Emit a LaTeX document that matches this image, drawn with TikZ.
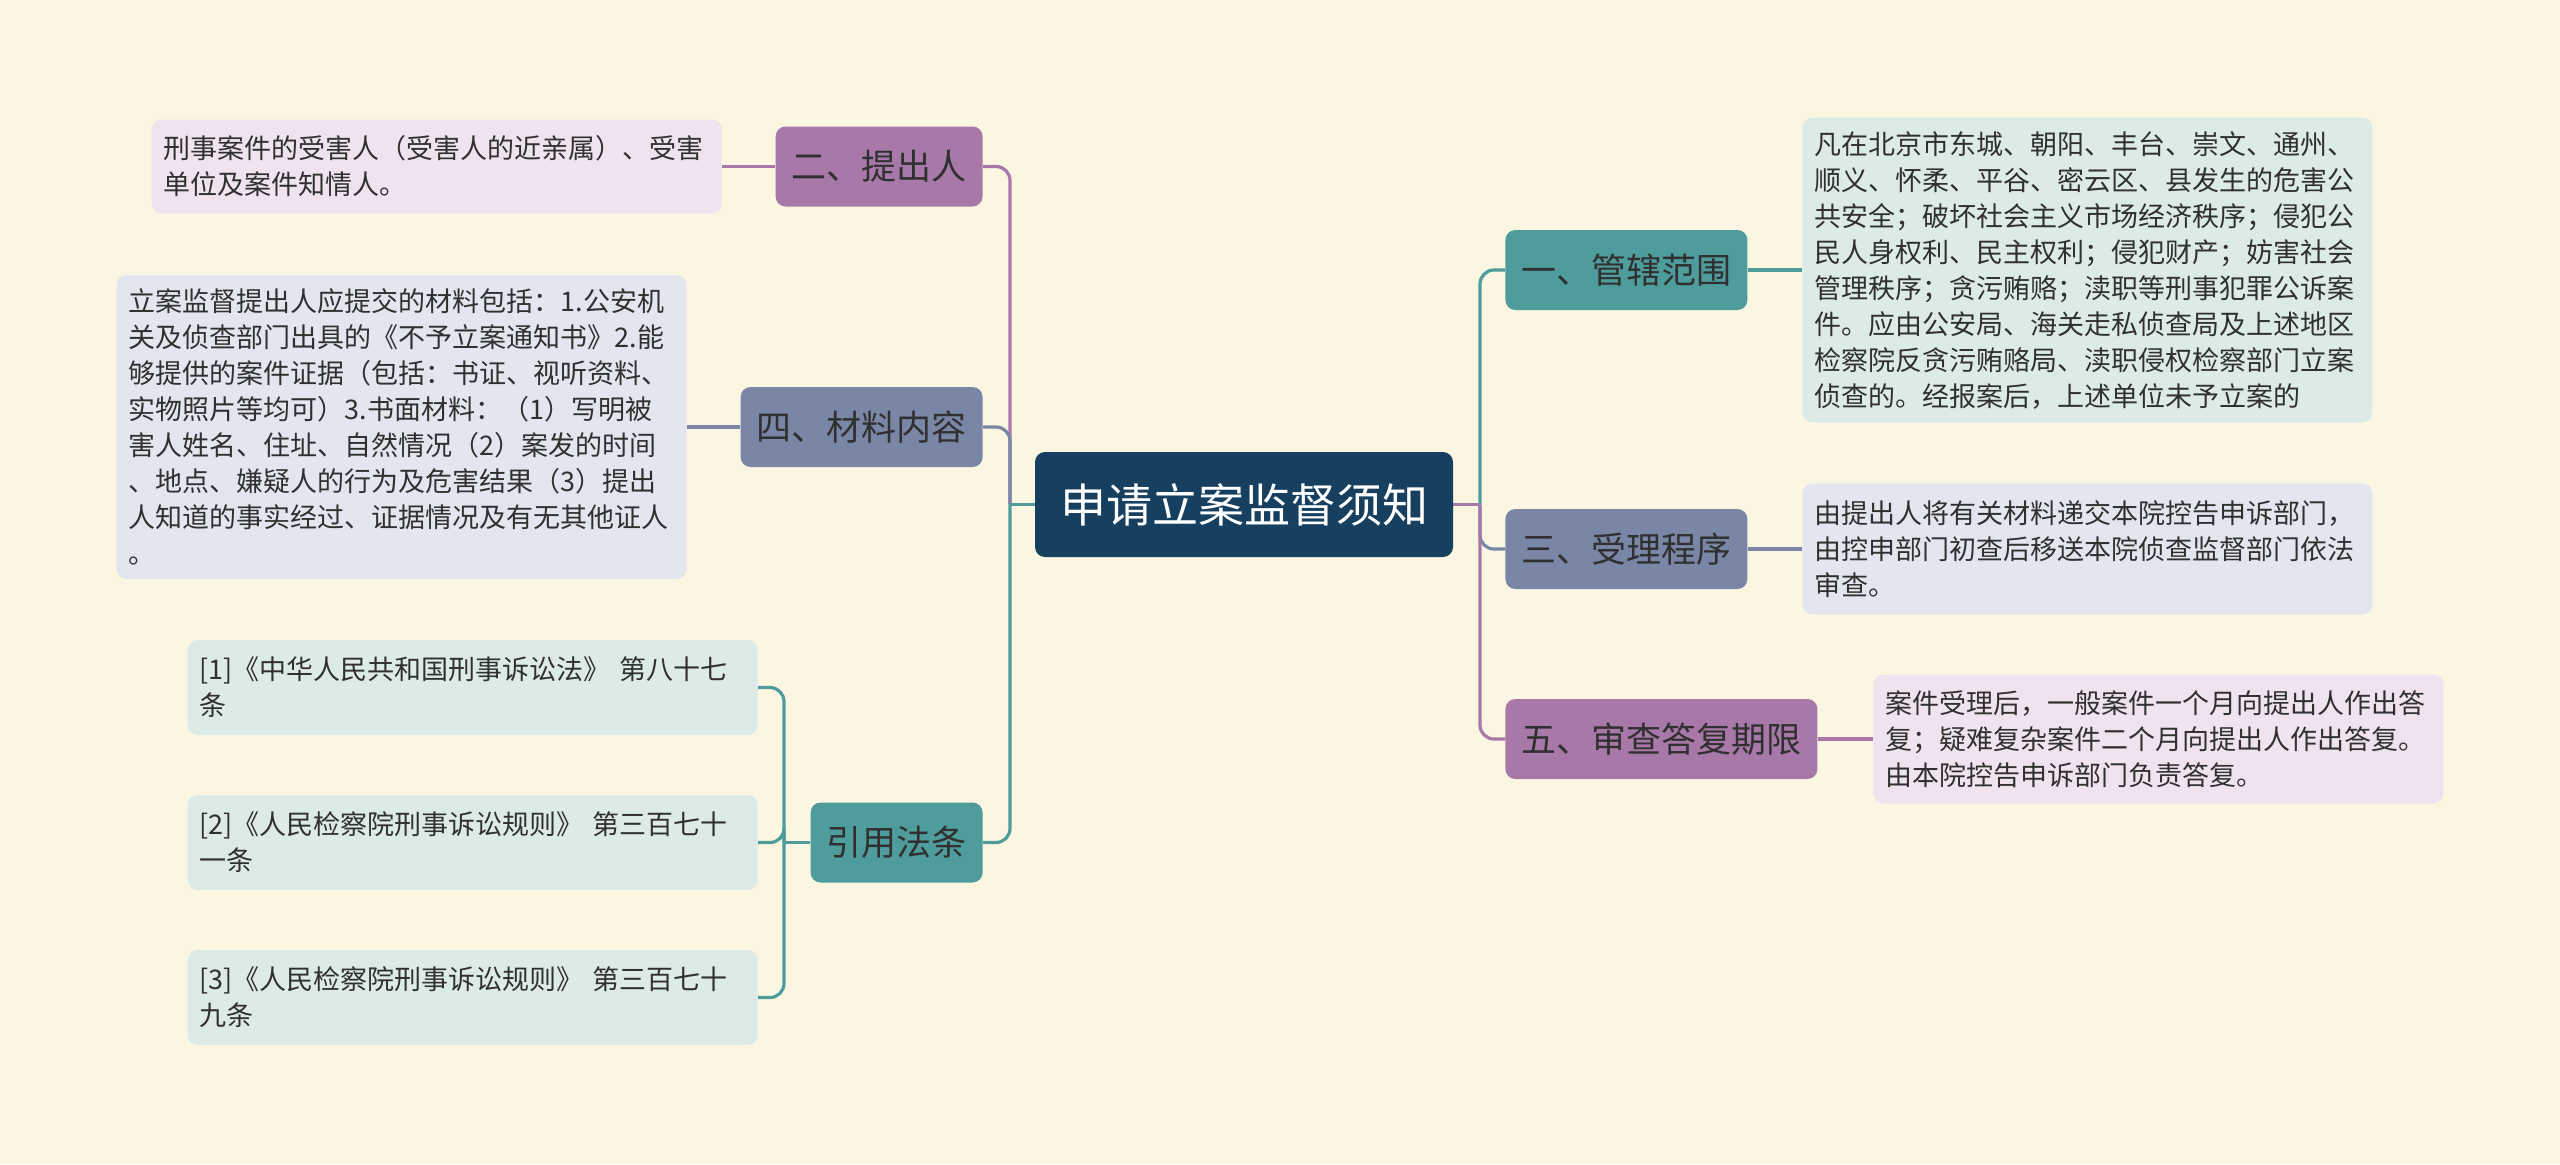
\documentclass[tikz,border=0pt]{standalone}
\usepackage{fontspec}
\newfontfamily\cjk{Noto Sans CJK SC}
\usetikzlibrary{backgrounds}

\definecolor{bgcream}{HTML}{FBF6E1}
\definecolor{rootblue}{HTML}{173F5F}
\definecolor{tealc}{HTML}{4E9C9B}
\definecolor{slatec}{HTML}{7A86A6}
\definecolor{plumc}{HTML}{A778A8}
\definecolor{tealleaf}{HTML}{DDEBE8}
\definecolor{slateleaf}{HTML}{E3E6EE}
\definecolor{plumleaf}{HTML}{EFE3EF}
\definecolor{inkc}{HTML}{303030}

\begin{document}
\begin{tikzpicture}[x=0.5pt,y=-0.5pt,
  root/.style={fill=rootblue,text=white,rounded corners=5pt,inner xsep=12.5pt,
    minimum height=52.5pt,font=\cjk\fontsize{23pt}{28pt}\selectfont},
  branch/.style={fill=#1,text=inkc,rounded corners=5pt,inner xsep=8pt,
    minimum height=40pt,font=\cjk\fontsize{17.5pt}{21pt}\selectfont},
  leaf/.style={fill=#1,text=inkc,rounded corners=5pt,inner xsep=6pt,text width=273pt,
    align=left,font=\cjk\fontsize{13.5pt}{18pt}\selectfont},
  link/.style={draw=#1,line width=1.6pt,rounded corners=7pt}]
  % Page
  \begin{pgfonlayer}{background}
    \fill[bgcream] (0,0) rectangle (2560,1164);
  \end{pgfonlayer}
  \useasboundingbox (0,0) rectangle (2560,1164);

  % Root
  \node[root] (root) at (1244,504.5) {申请立案监督须知};

  % Left branches
  \node[branch=plumc,anchor=east] (b2) at (983,166.5) {二、提出人};
  \node[branch=slatec,anchor=east] (b4) at (983,427) {四、材料内容};
  \node[branch=tealc,anchor=east] (bref) at (983,842.5) {引用法条};

  % Right branches
  \node[branch=tealc,anchor=west] (b1) at (1505,270) {一、管辖范围};
  \node[branch=slatec,anchor=west] (b3) at (1505,549) {三、受理程序};
  \node[branch=plumc,anchor=west] (b5) at (1505,739) {五、审查答复期限};

  % Left leaves
  \node[leaf=plumleaf,anchor=east,minimum height=47pt] (l2) at (722,166.5)
    {刑事案件的受害人（受害人的近亲属）、受害\\单位及案件知情人。};
  \node[leaf=slateleaf,anchor=east,minimum height=152pt] (l4) at (687,427)
    {立案监督提出人应提交的材料包括：1.公安机\\
     关及侦查部门出具的《不予立案通知书》2.能\\
     够提供的案件证据（包括：书证、视听资料、\\
     实物照片等均可）3.书面材料：（1）写明被\\
     害人姓名、住址、自然情况（2）案发的时间\\
     、地点、嫌疑人的行为及危害结果（3）提出\\
     人知道的事实经过、证据情况及有无其他证人\\
     。};
  \node[leaf=tealleaf,anchor=east,minimum height=47.5pt] (r1) at (758,687.5)
    {[1]《中华人民共和国刑事诉讼法》 第八十七\\条};
  \node[leaf=tealleaf,anchor=east,minimum height=47.5pt] (r2) at (758,842.5)
    {[2]《人民检察院刑事诉讼规则》 第三百七十\\一条};
  \node[leaf=tealleaf,anchor=east,minimum height=47.5pt] (r3) at (758,997.5)
    {[3]《人民检察院刑事诉讼规则》 第三百七十\\九条};

  % Right leaves
  \node[leaf=tealleaf,anchor=west,minimum height=152.5pt] (q1) at (1802,270)
    {凡在北京市东城、朝阳、丰台、崇文、通州、\\
     顺义、怀柔、平谷、密云区、县发生的危害公\\
     共安全；破坏社会主义市场经济秩序；侵犯公\\
     民人身权利、民主权利；侵犯财产；妨害社会\\
     管理秩序；贪污贿赂；渎职等刑事犯罪公诉案\\
     件。应由公安局、海关走私侦查局及上述地区\\
     检察院反贪污贿赂局、渎职侵权检察部门立案\\
     侦查的。经报案后，上述单位未予立案的};
  \node[leaf=slateleaf,anchor=west,minimum height=65.5pt] (q3) at (1802,549)
    {由提出人将有关材料递交本院控告申诉部门，\\
     由控申部门初查后移送本院侦查监督部门依法\\
     审查。};
  \node[leaf=plumleaf,anchor=west,minimum height=64.5pt] (q5) at (1873,739)
    {案件受理后，一般案件一个月向提出人作出答\\
     复；疑难复杂案件二个月向提出人作出答复。\\
     由本院控告申诉部门负责答复。};

  % Connectors
  \coordinate (lj) at (1010,504.5);
  \coordinate (rj) at (1480,504.5);
  \coordinate (fj) at (784,842.5);
  \begin{pgfonlayer}{background}
    \draw[link=plumc] (lj) |- (b2.east);
    \draw[link=slatec] (lj) |- (b4.east);
    \draw[link=tealc] (lj) |- (bref.east);
    \draw[link=tealc] (root.west) -- (lj);

    \draw[link=slatec] (rj) |- (b3.west);
    \draw[link=tealc] (rj) |- (b1.west);
    \draw[link=plumc] (rj) |- (b5.west);
    \draw[link=plumc] (root.east) -- (rj);

    \draw[link=plumc] (l2.east) -- (b2.west);
    \draw[link=slatec] (l4.east) -- (b4.west);
    \draw[link=tealc] (bref.west) -- (fj);
    \foreach \r in {r1,r2,r3} {
      \draw[link=tealc] (fj) |- (\r.east);
    }

    \draw[link=tealc] (b1.east) -- (q1.west);
    \draw[link=slatec] (b3.east) -- (q3.west);
    \draw[link=plumc] (b5.east) -- (q5.west);
  \end{pgfonlayer}
\end{tikzpicture}
\end{document}
